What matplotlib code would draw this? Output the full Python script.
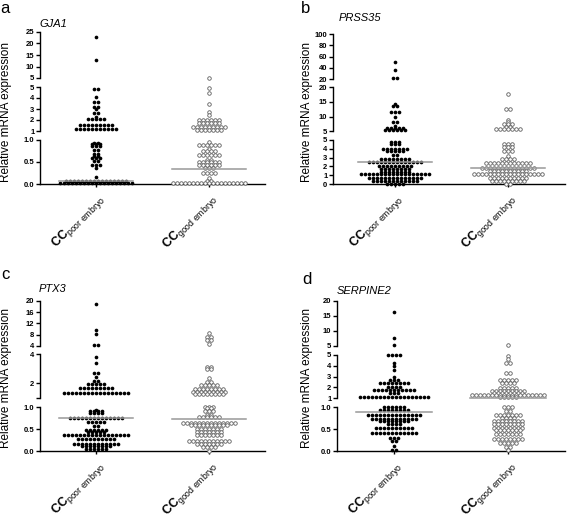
import numpy as np
import matplotlib.pyplot as plt

plt.rcParams['font.family'] = ['Liberation Sans', 'DejaVu Sans']
plt.rcParams['mathtext.fontset'] = 'custom'
plt.rcParams['mathtext.rm'] = 'Liberation Sans'
plt.rcParams['mathtext.bf'] = 'Liberation Sans:bold'
plt.rcParams['mathtext.it'] = 'Liberation Sans:italic'

W, H = 567, 520

xlabels = [r'$\mathbf{CC}_{\mathrm{poor\ embryo}}$', r'$\mathbf{CC}_{\mathrm{good\ embryo}}$']

# dot rows: (value, number of dots in that row)
gja1_poor = [(22.8, 1), (12.8, 1),
             (4.8, 2), (4.05, 1), (3.6, 2), (3.2, 2), (3.0, 1), (2.6, 2), (2.3, 1), (2.05, 5), (1.55, 9), (1.2, 11),
             (0.93, 2), (0.9, 3), (0.86, 3), (0.77, 2), (0.69, 2), (0.64, 2), (0.58, 3), (0.52, 2), (0.44, 3),
             (0.36, 1), (0.17, 1), (0.06, 16), (0.02, 19)]
gja1_good = [(5.2, 1),
             (4.9, 1), (4.5, 1), (3.45, 1), (2.7, 1), (2.5, 1), (2.0, 6), (1.7, 6), (1.4, 9), (1.05, 7),
             (0.95, 1), (0.89, 6), (0.8, 1), (0.76, 4), (0.67, 6), (0.54, 2), (0.5, 6), (0.44, 6), (0.36, 3),
             (0.26, 4), (0.14, 1), (0.07, 2), (0.02, 19)]
prss35_poor = [(50, 1), (36, 1), (21, 2),
               (14.2, 1), (13.6, 2), (11.5, 3), (10.0, 1), (8.3, 2), (6.8, 1), (6.0, 5), (5.5, 6),
               (4.75, 3), (4.5, 3), (4.0, 7), (3.7, 5), (3.3, 2), (2.8, 8), (2.55, 14), (2.0, 9), (1.75, 8),
               (1.35, 8), (1.1, 18), (0.65, 14), (0.3, 12), (0.05, 5)]
prss35_good = [(17.7, 1), (12.7, 2), (8.9, 1), (8.3, 1), (7.4, 3), (6.6, 2), (5.9, 7),
               (4.6, 3), (4.25, 3), (3.75, 3), (3.2, 1), (2.85, 4), (2.35, 12), (1.85, 14), (1.45, 10),
               (1.1, 18), (0.72, 10), (0.34, 9), (0.05, 2)]
ptx3_poor = [(18.7, 1), (9.6, 1), (8.2, 1), (4.4, 2),
             (3.83, 1), (3.37, 1), (2.68, 2), (2.43, 1), (2.12, 2), (1.97, 5), (1.7, 9), (1.35, 17),
             (0.93, 1), (0.9, 4), (0.86, 4), (0.75, 14), (0.66, 5), (0.56, 2), (0.48, 6), (0.43, 5),
             (0.37, 17), (0.28, 10), (0.17, 12), (0.11, 8), (0.05, 6)]
ptx3_good = [(8.5, 1), (7.3, 2), (6.2, 2), (4.6, 1),
             (3.1, 2), (2.95, 2), (2.34, 1), (2.1, 2), (1.87, 5), (1.57, 8), (1.42, 9), (1.24, 8),
             (1.0, 3), (0.97, 2), (0.9, 3), (0.82, 2), (0.77, 6), (0.65, 14), (0.6, 10), (0.5, 7),
             (0.44, 7), (0.37, 7), (0.24, 11), (0.17, 7), (0.1, 4), (0.01, 1)]
serpine2_poor = [(16.1, 1), (7.7, 1), (5.3, 1),
                 (4.97, 4), (4.2, 1), (3.94, 1), (3.57, 1), (2.98, 1), (2.68, 3), (2.43, 8), (2.0, 4),
                 (1.76, 11), (1.45, 3), (1.15, 18),
                 (0.99, 6), (0.93, 8), (0.81, 14), (0.74, 12), (0.69, 8), (0.62, 4), (0.52, 10), (0.41, 12),
                 (0.3, 3), (0.23, 2), (0.13, 1), (0.03, 2)]
serpine2_good = [(5.2, 1),
                 (4.9, 1), (4.6, 1), (4.2, 2), (3.35, 2), (2.68, 5), (2.43, 4), (1.97, 5), (1.7, 9),
                 (1.5, 8), (1.3, 19), (1.1, 5),
                 (0.99, 3), (0.91, 2), (0.82, 7), (0.76, 4), (0.69, 8), (0.62, 8), (0.53, 8), (0.47, 7),
                 (0.38, 7), (0.28, 8), (0.18, 5), (0.09, 2), (0.03, 1)]

medians_gja1 = [0.07, 0.33]
medians_prss35 = [2.55, 1.8]
medians_ptx3 = [0.75, 0.73]
medians_serpine2 = [0.89, 1.02]

# axis segments (bottom, middle, top) and their ticks
segs_gja1 = [(0, 1.0), (1, 5), (5, 25)]
ticks_gja1 = [[0, 0.5, 1.0], [1, 2, 3, 4, 5], [5, 10, 15, 20, 25]]
tlab_gja1 = [['0.0', '0.5', '1.0'], ['1', '2', '3', '4', '5'], ['5', '10', '15', '20', '25']]
segs_prss35 = [(0, 5), (5, 20), (20, 100)]
ticks_prss35 = [[0, 1, 2, 3, 4, 5], [5, 10, 15, 20], [20, 40, 60, 80, 100]]
tlab_prss35 = [['0', '1', '2', '3', '4', '5'], ['5', '10', '15', '20'], ['20', '40', '60', '80', '100']]
segs_ptx3 = [(0, 1.0), (1, 4), (4, 20)]
ticks_ptx3 = [[0, 0.5, 1.0], [1, 2, 4], [4, 8, 12, 16, 20]]
tlab_ptx3 = [['0.0', '0.5', '1.0'], ['', '2', '4'], ['4', '8', '12', '16', '20']]
segs_serpine2 = [(0, 1.0), (1, 5), (5, 20)]
ticks_serpine2 = [[0, 0.5, 1.0], [1, 2, 3, 4, 5], [5, 10, 15, 20]]
tlab_serpine2 = [['0.0', '0.5', '1.0'], ['1', '2', '3', '4', '5'], ['5', '10', '15', '20']]


def px(x0, y0, x1, y1):
    return [x0 / W, 1 - y1 / H, (x1 - x0) / W, (y1 - y0) / H]


def draw_panel(fig, data, medians, segs, ticks, tlabs, xpix, ypix, xlim):
    ppu = (xpix[1] - xpix[0]) / (xlim[1] - xlim[0])
    dx = 4.0 / ppu
    axes = []
    for k in range(3):
        ax = fig.add_axes(px(xpix[0], ypix[k][0], xpix[1], ypix[k][1]))
        ax.set_xlim(xlim)
        ax.set_ylim(segs[k])
        ax.patch.set_alpha(0)
        for s in ['top', 'right']:
            ax.spines[s].set_visible(False)
        ax.spines['left'].set_linewidth(1.0)
        ax.set_yticks(ticks[k])
        ax.set_yticklabels(tlabs[k], fontsize=5.5, fontweight='bold')
        ax.tick_params(axis='y', length=3, width=1.0, pad=1)
        if k == 0:
            ax.spines['bottom'].set_linewidth(1.0)
            ax.set_xticks([0, 1])
            ax.set_xticklabels(xlabels, fontsize=9, rotation=45, ha='right', va='top',
                               rotation_mode='anchor')
            ax.tick_params(axis='x', length=2, width=1.0, pad=3)
        else:
            ax.spines['bottom'].set_visible(False)
            ax.set_xticks([])
        axes.append(ax)

    def seg_of(v):
        if v <= segs[0][1]:
            return 0
        if v <= segs[1][1]:
            return 1
        return 2

    for g, rows in enumerate(data):
        for val, n in rows:
            ax = axes[seg_of(val)]
            xs = g + (np.arange(n) - (n - 1) / 2) * dx
            ys = np.full(n, val)
            if g == 0:
                ax.scatter(xs, ys, s=7, c='black', linewidths=0, clip_on=False, zorder=3)
            else:
                ax.scatter(xs, ys, s=6.5, facecolors='white', edgecolors='#5e5e5e',
                           linewidths=0.6, clip_on=False, zorder=3)
        m = medians[g]
        ax = axes[seg_of(m)]
        ax.plot([g - 0.33, g + 0.33], [m, m], color='#999999', lw=1.1, zorder=4, clip_on=False)
    return axes


fig = plt.figure(figsize=(W / 100, H / 100), dpi=100)

draw_panel(fig, [gja1_poor, gja1_good], medians_gja1, segs_gja1, ticks_gja1, tlab_gja1,
           (40, 265), [(140, 184), (87, 131), (32, 78)], (-0.5, 1.5))
draw_panel(fig, [prss35_poor, prss35_good], medians_prss35, segs_prss35, ticks_prss35, tlab_prss35,
           (333, 565), [(140, 184), (87.3, 131.3), (34.3, 79)], (-0.55, 1.504))
draw_panel(fig, [ptx3_poor, ptx3_good], medians_ptx3, segs_ptx3, ticks_ptx3, tlab_ptx3,
           (40, 265), [(407, 451.3), (354.3, 397.7), (300.7, 346)], (-0.5, 1.5))
draw_panel(fig, [serpine2_poor, serpine2_good], medians_serpine2, segs_serpine2, ticks_serpine2,
           tlab_serpine2, (337, 565), [(407, 451.3), (354.7, 398.3), (300.7, 346)], (-0.5, 1.5))

ylab = 'Relative mRNA expression'
for (x, y) in [(6, 112), (306.7, 112), (6, 378), (307, 378)]:
    fig.text(x / W, 1 - y / H, ylab, rotation=90, ha='center', va='center', fontsize=8.5)

for (x, y, t) in [(39, 24, 'GJA1'), (339, 18, 'PRSS35'), (39, 289, 'PTX3'), (337, 291, 'SERPINE2')]:
    fig.text(x / W, 1 - y / H, t, style='italic', ha='left', va='center', fontsize=8)

for (x, y, t) in [(0, 13, 'a'), (301, 13, 'b'), (1, 279, 'c'), (302, 284, 'd')]:
    fig.text(x / W, 1 - y / H, t, ha='left', va='baseline', fontsize=12)

fig.savefig('out.png', dpi=100)
